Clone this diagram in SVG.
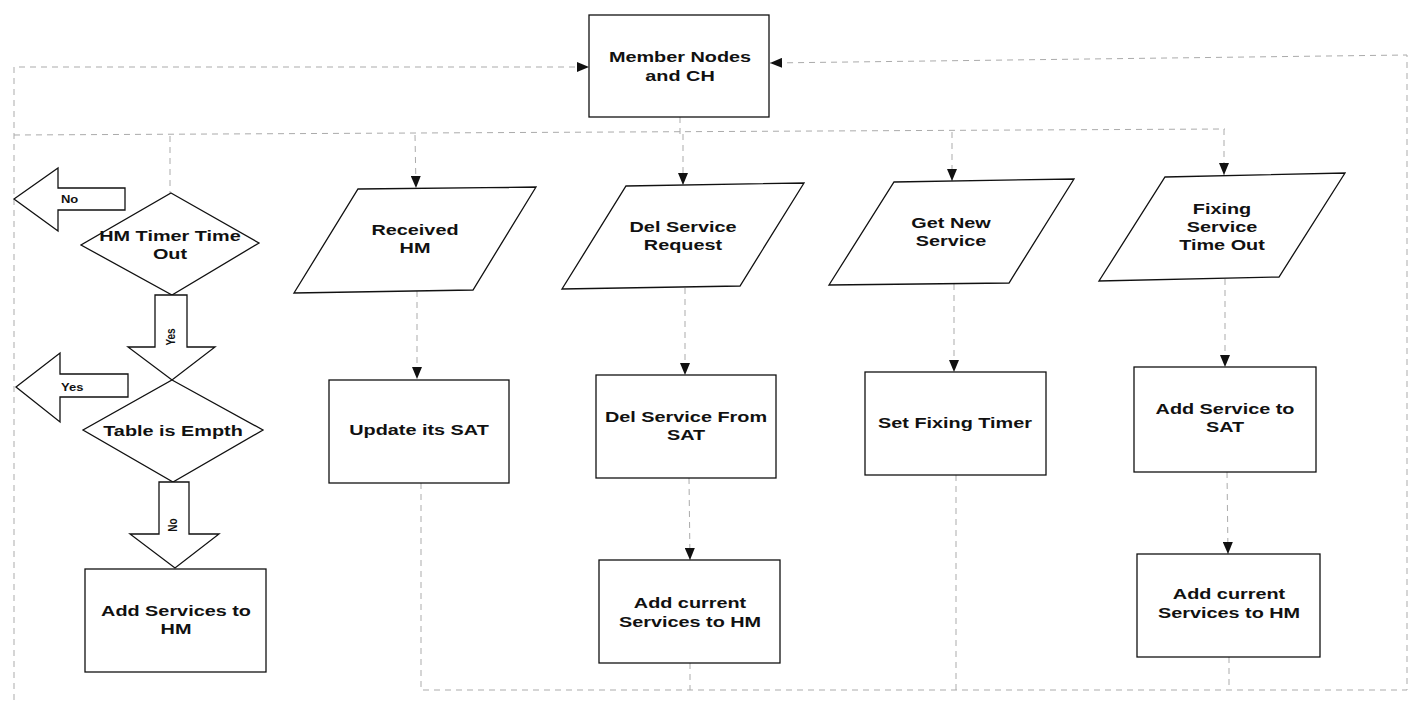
<svg xmlns="http://www.w3.org/2000/svg" width="1414" height="704" viewBox="0 0 1414 704">
<defs>
<style>
.shape{fill:#fff;stroke:#111;stroke-width:1.3}
.conn{fill:none;stroke:#ababab;stroke-width:1;stroke-dasharray:6 5}
.t{font-family:"Liberation Sans",Arial,sans-serif;font-weight:bold;font-size:15.5px;text-anchor:middle;fill:#111}
.s{font-family:"Liberation Sans",Arial,sans-serif;font-weight:bold;font-size:10px;fill:#111}
</style>
<marker id="ah" viewBox="0 0 12 10" refX="12" refY="5" markerWidth="12" markerHeight="10" markerUnits="userSpaceOnUse" orient="auto">
<path d="M0,0 L12,5 L0,10 Z" fill="#111"/>
</marker>
</defs>
<rect width="1414" height="704" fill="#fff"/>

<g id="connectors">
<polyline class="conn" points="14,700 14,67 589,67" marker-end="url(#ah)"/>
<polyline class="conn" points="421,483 421,690 1407,690 1407,55 770,63" marker-end="url(#ah)"/>
<line class="conn" x1="680" y1="117" x2="680" y2="134"/>
<line class="conn" x1="14" y1="135" x2="1225" y2="129"/>
<line class="conn" x1="170" y1="136" x2="170" y2="193"/>
<line class="conn" x1="415" y1="135" x2="416" y2="188" marker-end="url(#ah)"/>
<line class="conn" x1="683" y1="134" x2="683" y2="185" marker-end="url(#ah)"/>
<line class="conn" x1="952" y1="132" x2="952" y2="181" marker-end="url(#ah)"/>
<line class="conn" x1="1224" y1="129" x2="1224" y2="175" marker-end="url(#ah)"/>
<line class="conn" x1="417" y1="291" x2="417" y2="379" marker-end="url(#ah)"/>
<line class="conn" x1="685" y1="288" x2="685" y2="375" marker-end="url(#ah)"/>
<line class="conn" x1="954" y1="284" x2="954" y2="372" marker-end="url(#ah)"/>
<line class="conn" x1="1225" y1="279" x2="1225" y2="367" marker-end="url(#ah)"/>
<line class="conn" x1="689" y1="478" x2="690" y2="560" marker-end="url(#ah)"/>
<line class="conn" x1="1227" y1="472" x2="1228" y2="554" marker-end="url(#ah)"/>
<line class="conn" x1="690" y1="663" x2="690" y2="690"/>
<line class="conn" x1="956" y1="475" x2="956" y2="690"/>
<line class="conn" x1="1229" y1="657" x2="1229" y2="690"/>
</g>

<g id="member-nodes">
<rect class="shape" x="589" y="15" width="180" height="102"/>
<text class="t" transform="translate(680 0) scale(1.28 1)"><tspan x="0" y="62">Member Nodes</tspan><tspan x="0" y="81">and CH</tspan></text>
</g>

<g id="arrow-no-left">
<polygon class="shape" points="14,199 58,168 58,188 125,188 125,210 58,210 58,231"/>
<text class="s" transform="translate(61 203) scale(1.3 1)">No</text>
</g>

<g id="hm-timer">
<polygon class="shape" points="171,193 259,243 172,295 81,245"/>
<text class="t" transform="translate(170 0) scale(1.28 1)"><tspan x="0" y="241">HM Timer Time</tspan><tspan x="0" y="259">Out</tspan></text>
</g>

<g id="arrow-yes-down">
<polygon class="shape" points="155,295 187,295 187,347 215,347 172,380 128,347 155,347"/>
<text class="s" transform="translate(175 337) scale(1.3 1) rotate(-90)" text-anchor="middle">Yes</text>
</g>

<g id="arrow-yes-left">
<polygon class="shape" points="16,387 60,353 60,374 128,374 128,397 60,397 60,422"/>
<text class="s" transform="translate(61 391) scale(1.3 1)">Yes</text>
</g>

<g id="table-empty">
<polygon class="shape" points="172,380 263,430 173,482 83,430"/>
<text class="t" transform="translate(173 0) scale(1.28 1)"><tspan x="0" y="436">Table is Empth</tspan></text>
</g>

<g id="arrow-no-down">
<polygon class="shape" points="159,482 189,482 189,534 219,534 175,568 130,534 159,534"/>
<text class="s" transform="translate(177 525) scale(1.3 1) rotate(-90)" text-anchor="middle">No</text>
</g>

<g id="add-services-hm">
<rect class="shape" x="85" y="569" width="181" height="103"/>
<text class="t" transform="translate(176 0) scale(1.28 1)"><tspan x="0" y="616">Add Services to</tspan><tspan x="0" y="634">HM</tspan></text>
</g>

<g id="received-hm">
<polygon class="shape" points="358,189 536,187 473,290 294,293"/>
<text class="t" transform="translate(415 0) scale(1.28 1)"><tspan x="0" y="235">Received</tspan><tspan x="0" y="253">HM</tspan></text>
</g>

<g id="del-service-request">
<polygon class="shape" points="626,186 804,183 740,286 562,289"/>
<text class="t" transform="translate(683 0) scale(1.28 1)"><tspan x="0" y="232">Del Service</tspan><tspan x="0" y="250">Request</tspan></text>
</g>

<g id="get-new-service">
<polygon class="shape" points="894,182 1074,179 1009,283 829,285"/>
<text class="t" transform="translate(951 0) scale(1.28 1)"><tspan x="0" y="228">Get New</tspan><tspan x="0" y="246">Service</tspan></text>
</g>

<g id="fixing-timeout">
<polygon class="shape" points="1165,177 1345,173 1279,277 1099,281"/>
<text class="t" transform="translate(1222 0) scale(1.28 1)"><tspan x="0" y="214">Fixing</tspan><tspan x="0" y="232">Service</tspan><tspan x="0" y="250">Time Out</tspan></text>
</g>

<g id="update-sat">
<rect class="shape" x="329" y="380" width="180" height="103"/>
<text class="t" transform="translate(419 0) scale(1.28 1)"><tspan x="0" y="435">Update its SAT</tspan></text>
</g>

<g id="del-service-sat">
<rect class="shape" x="596" y="375" width="180" height="103"/>
<text class="t" transform="translate(686 0) scale(1.28 1)"><tspan x="0" y="422">Del Service From</tspan><tspan x="0" y="440">SAT</tspan></text>
</g>

<g id="set-fixing-timer">
<rect class="shape" x="865" y="372" width="181" height="103"/>
<text class="t" transform="translate(955 0) scale(1.28 1)"><tspan x="0" y="428">Set Fixing Timer</tspan></text>
</g>

<g id="add-service-sat">
<rect class="shape" x="1134" y="367" width="182" height="105"/>
<text class="t" transform="translate(1225 0) scale(1.28 1)"><tspan x="0" y="414">Add Service to</tspan><tspan x="0" y="432">SAT</tspan></text>
</g>

<g id="add-current-mid">
<rect class="shape" x="599" y="560" width="181" height="103"/>
<text class="t" transform="translate(690 0) scale(1.28 1)"><tspan x="0" y="608">Add current</tspan><tspan x="0" y="627">Services to HM</tspan></text>
</g>

<g id="add-current-right">
<rect class="shape" x="1137" y="554" width="183" height="103"/>
<text class="t" transform="translate(1229 0) scale(1.28 1)"><tspan x="0" y="599">Add current</tspan><tspan x="0" y="618">Services to HM</tspan></text>
</g>
</svg>
